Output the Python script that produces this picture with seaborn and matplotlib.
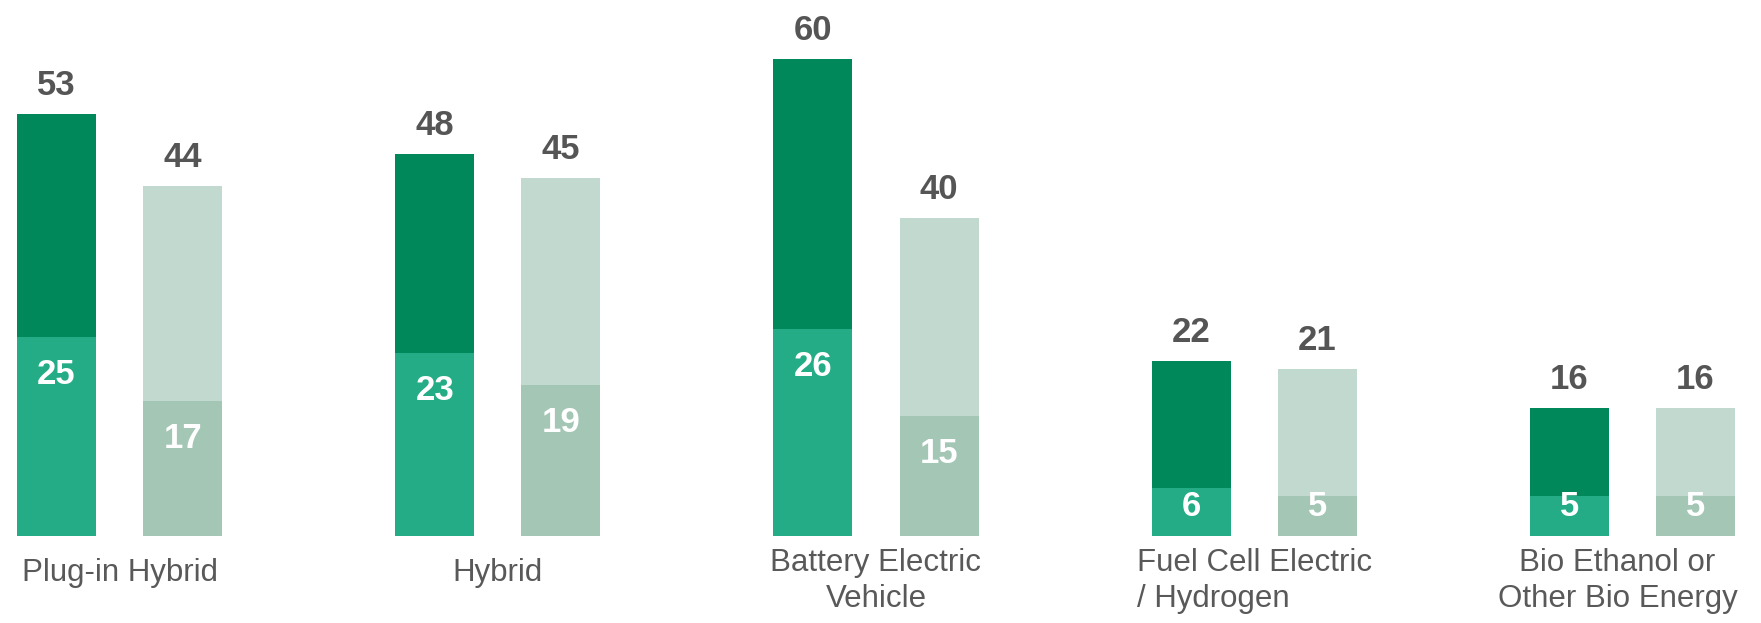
import matplotlib
matplotlib.use("Agg")
import matplotlib.pyplot as plt
import seaborn as sns
import pandas as pd

# ---- data ----
categories = ["Plug-in Hybrid", "Hybrid", "Battery Electric\nVehicle",
              "Fuel Cell Electric\n/ Hydrogen", "Bio Ethanol or\nOther Bio Energy"]
series = ["A", "B"]
totals_a = [53, 48, 60, 22, 16]
totals_b = [44, 45, 40, 21, 16]
inner_a = [25, 23, 26, 6, 5]
inner_b = [17, 19, 15, 5, 5]

sns.set_style("white")
plt.rcParams["font.family"] = ["Liberation Sans", "DejaVu Sans"]

W, H, DPI = 17.61, 6.23, 100
fig = plt.figure(figsize=(W, H), dpi=DPI)
base_px = 87.3
ax = fig.add_axes([0, base_px / 623, 1, 1 - base_px / 623])

tot = pd.DataFrame({
    "cat": categories * 2,
    "series": [series[0]] * 5 + [series[1]] * 5,
    "value": totals_a + totals_b,
})
inn = pd.DataFrame({
    "cat": categories * 2,
    "series": [series[0]] * 5 + [series[1]] * 5,
    "value": inner_a + inner_b,
})

dark = "#00875A"
light = "#C1D9CF"
dark_in = "#23AC85"
light_in = "#A3C6B5"

WIDTH, GAP = 0.667, 0.374
sns.barplot(data=tot, x="cat", y="value", hue="series", order=categories,
            hue_order=series, palette=[dark, light], width=WIDTH, gap=GAP,
            saturation=1, legend=False, ax=ax, linewidth=0, errorbar=None)
sns.barplot(data=inn, x="cat", y="value", hue="series", order=categories,
            hue_order=series, palette=[dark_in, light_in], width=WIDTH, gap=GAP,
            saturation=1, legend=False, ax=ax, linewidth=0, errorbar=None)

ymax = 67.38
ax.set_ylim(0, ymax)
ax.set_xlim(-0.316, 4.340)
for s in ax.spines.values():
    s.set_visible(False)
ax.set_xticks([])
ax.set_yticks([])
ax.set_xlabel("")
ax.set_ylabel("")

ppu = (623 - base_px) / ymax  # pixels per data unit
px2pt = 72 / DPI
off = WIDTH / 4
gray = "#555555"

for i in range(len(categories)):
    for sgn, t, inner in ((-1, totals_a[i], inner_a[i]), (1, totals_b[i], inner_b[i])):
        x = i + sgn * off
        ax.annotate(f"{t}", xy=(x, t), xytext=(0, 32 * px2pt), textcoords="offset points",
                    ha="center", va="center_baseline", fontsize=25, fontweight="bold",
                    color=gray, annotation_clip=False)
        yc = max(inner * ppu - 34, 33) / ppu
        ax.text(x, yc, f"{inner}", ha="center", va="center_baseline", fontsize=25,
                fontweight="bold", color="white")
    lab = categories[i]
    two = "\n" in lab
    dy = 12.6 if two else 22.6
    dx = -15 if i == 4 else 0
    ax.annotate(lab, xy=(i, 0), xytext=(dx * px2pt, -dy * px2pt), textcoords="offset points",
                ha="center", va="top", fontsize=22.5, color="#595959",
                multialignment="left" if i == 3 else "center", linespacing=1.26,
                annotation_clip=False)

fig.savefig("out.png", dpi=DPI)
